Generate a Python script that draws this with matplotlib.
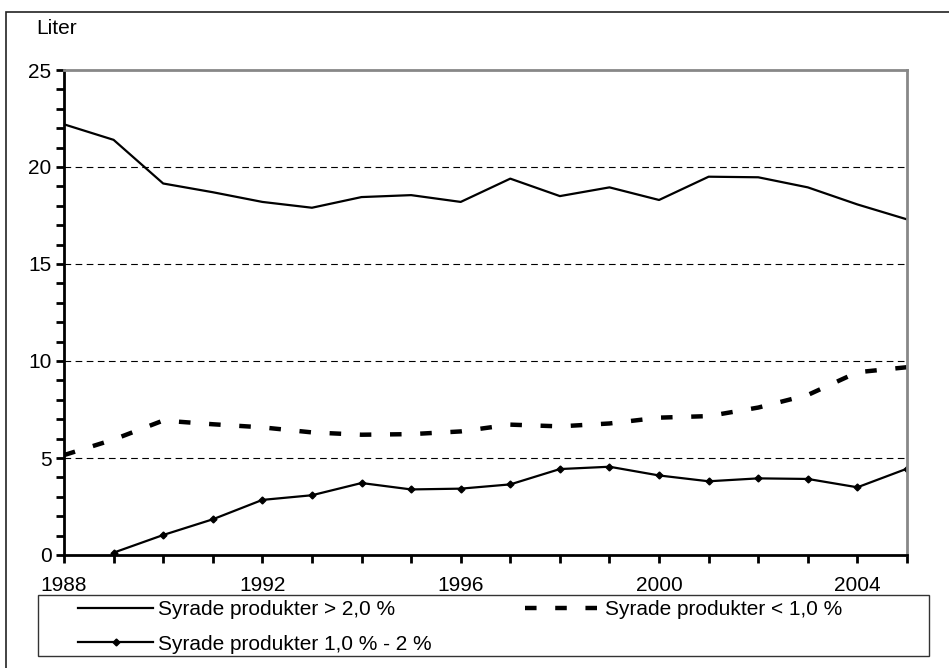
import matplotlib
matplotlib.use("Agg")
import matplotlib.pyplot as plt
from matplotlib.patches import Rectangle
from matplotlib.ticker import MultipleLocator, FixedLocator

plt.rcParams['font.family'] = ['Liberation Sans', 'DejaVu Sans']

# data
years = list(range(1988, 2006))
over_2 = [22.2, 21.4, 19.15, 18.7, 18.2, 17.9, 18.45, 18.55, 18.2, 19.4,
          18.5, 18.95, 18.3, 19.5, 19.47, 18.95, 18.07, 17.3]
under_1 = [5.15, 5.95, 6.93, 6.74, 6.58, 6.32, 6.2, 6.23, 6.37, 6.72,
           6.63, 6.78, 7.08, 7.16, 7.6, 8.25, 9.42, 9.68]
years_mid = list(range(1989, 2006))
mid_1_2 = [0.12, 1.03, 1.84, 2.84, 3.08, 3.71, 3.38, 3.42, 3.64,
           4.43, 4.55, 4.1, 3.8, 3.95, 3.92, 3.49, 4.45]
labels = ['Syrade produkter > 2,0 %', 'Syrade produkter < 1,0 %',
          'Syrade produkter 1,0 % - 2 %']

W, H = 949, 668
FS = 15
fig = plt.figure(figsize=(W / 100, H / 100), dpi=100)

# outer frame (only left/top edges visible in the picture)
fig.patches.append(Rectangle((6 / W, -0.1), 1.2, (H - 12) / H + 0.1,
                             transform=fig.transFigure, fill=False,
                             edgecolor='#222222', linewidth=1.2))

ax = fig.add_axes([64 / W, (H - 555) / H, (907 - 64) / W, (555 - 70) / H])

l1, = ax.plot(years, over_2, color='black', lw=1.6)
l2, = ax.plot(years, under_1, color='black', lw=3.2, dashes=(2.6, 4.2))
l3, = ax.plot(years_mid, mid_1_2, color='black', lw=1.6, marker='D', ms=3.5)

ax.set_xlim(1988, 2005)
ax.set_ylim(0, 25)
ax.yaxis.set_major_locator(MultipleLocator(5))
ax.yaxis.set_minor_locator(MultipleLocator(1))
ax.xaxis.set_major_locator(FixedLocator([1988, 1992, 1996, 2000, 2004]))
ax.xaxis.set_minor_locator(MultipleLocator(1))

for y in [5, 10, 15, 20]:
    ax.axhline(y, color='black', lw=0.8, dashes=(6, 4), zorder=0)

ax.spines['top'].set_color('#888888')
ax.spines['right'].set_color('#888888')
for s in ax.spines.values():
    s.set_linewidth(2)

ax.tick_params(axis='y', which='both', direction='out', length=6, width=2,
               labelsize=FS, pad=3)
ax.tick_params(axis='x', which='both', direction='out', length=6, width=2,
               labelsize=FS, pad=9)

fig.text(36 / W, 1 - 29 / H, 'Liter', fontsize=FS, va='center', ha='left')

# legend box
fig.patches.append(Rectangle((38 / W, (H - 656) / H), (929 - 38) / W, 61 / H,
                             transform=fig.transFigure, fill=False,
                             edgecolor='#333333', linewidth=1.0))
leg = fig.legend([l1, l3, l2], [labels[0], labels[2], labels[1]],
                 loc='upper left', ncol=2,
                 bbox_to_anchor=(78 / W, (H - 600) / H),
                 fontsize=FS, frameon=False,
                 handlelength=3.6, handletextpad=0.25, borderpad=0,
                 labelspacing=0.75, columnspacing=4.45, borderaxespad=0)

fig.savefig('out.png', dpi=100)
